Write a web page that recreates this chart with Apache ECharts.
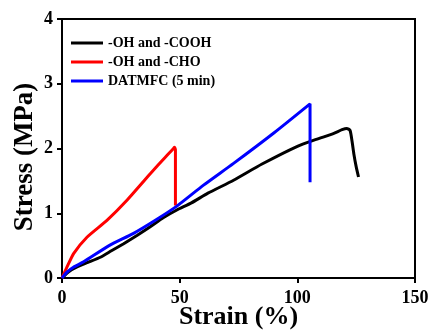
<!DOCTYPE html>
<html><head><meta charset="utf-8">
<script src="https://cdn.jsdelivr.net/npm/echarts@6/dist/echarts.min.js"></script>
<style>html,body{margin:0;padding:0;background:#fff}#c{width:433px;height:336px}</style>
</head><body><div id="c"></div>
<script>
const seriesNames = ['-OH and -COOH', '-OH and -CHO', 'DATMFC (5 min)'];
const seriesColors = ['#000000', '#ff0000', '#0000ff'];
const xTicks = [0, 50, 100, 150];
const yTicks = [0, 1, 2, 3, 4];
const cooh = [[0,0],[3,0.1],[6.4,0.17],[11,0.24],[16.3,0.32],[21,0.42],[26.2,0.53],[32,0.66],[37.5,0.79],[43,0.93],[48.8,1.05],[55,1.16],[62,1.31],[72.9,1.51],[85,1.76],[99.8,2.03],[108,2.14],[115.3,2.23],[119,2.29],[121,2.31],[122.4,2.28],[123.3,2.1],[124,1.92],[125,1.72],[126,1.56]];
const cho = [[0,0],[2,0.16],[5,0.38],[10.6,0.63],[19.1,0.89],[27.6,1.2],[37.5,1.61],[44,1.87],[47.4,2.0],[47.8,2.02],[48.2,1.98],[48.2,1.12]];
const datmfc = [[0,0],[2.1,0.09],[5,0.17],[9.2,0.25],[20,0.5],[30.4,0.69],[40,0.9],[48.8,1.11],[60,1.43],[72.9,1.77],[90,2.24],[105.4,2.69],[105.4,1.48]];
const dataSets = [cooh, cho, datmfc];

const font = '"Liberation Serif","Times New Roman",serif';
const chart = echarts.init(document.getElementById('c'));
chart.setOption({
  animation: false,
  grid: {left: 62, right: 18, top: 19, bottom: 58, outerBoundsMode: 'none', containLabel: false, show: true, borderColor: '#000', borderWidth: 2, backgroundColor: 'transparent'},
  legend: {
    orient: 'vertical', left: 66, top: 31, itemWidth: 32, itemHeight: 3, itemGap: 5, icon: 'rect',
    data: seriesNames,
    textStyle: {fontFamily: font, fontWeight: 'bold', fontSize: 14, color: '#000'}
  },
  graphic: [{
    type: 'text', rotation: Math.PI / 2,
    x: 25, y: 157,
    style: {text: 'Stress (MPa)', fontFamily: font, fontWeight: 'bold', fontSize: 27, fill: '#000', align: 'center', verticalAlign: 'middle'}
  }],
  xAxis: {
    type: 'value', min: 0, max: 150, interval: 50,
    name: 'Strain (%)', nameLocation: 'middle', nameGap: 26, nameMoveOverlap: false,
    nameTextStyle: {fontFamily: font, fontWeight: 'bold', fontSize: 26, color: '#000'},
    axisLine: {lineStyle: {color: '#000', width: 2}},
    axisTick: {show: true, length: 5, lineStyle: {color: '#000', width: 2}},
    axisLabel: {fontFamily: font, fontWeight: 'bold', fontSize: 18, color: '#000', margin: 11,
      formatter: v => xTicks.includes(v) ? String(v) : ''},
    splitLine: {show: false}
  },
  yAxis: {
    type: 'value', min: 0, max: 4, interval: 1,
    axisLine: {lineStyle: {color: '#000', width: 2}},
    axisTick: {show: true, length: 5, lineStyle: {color: '#000', width: 2}},
    axisLabel: {fontFamily: font, fontWeight: 'bold', fontSize: 18, color: '#000', margin: 9,
      formatter: v => yTicks.includes(v) ? String(v) : ''},
    splitLine: {show: false}
  },
  series: seriesNames.map((n, i) => ({
    name: n, type: 'line', data: dataSets[i], showSymbol: false, smooth: 0.2,
    lineStyle: {color: seriesColors[i], width: 3}, itemStyle: {color: seriesColors[i]}
  }))
});
</script></body></html>
